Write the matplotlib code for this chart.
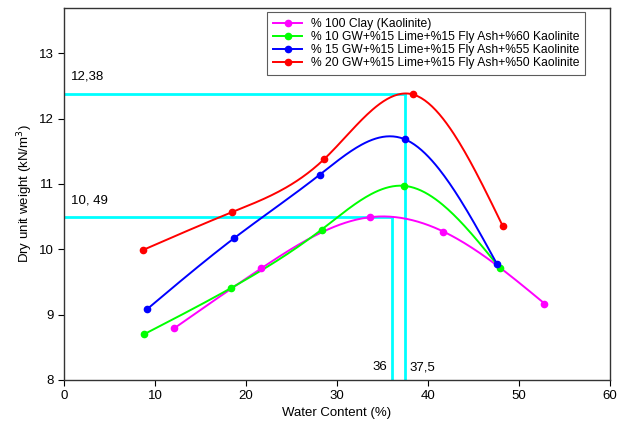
import numpy as np
import matplotlib
matplotlib.use("Agg")
import matplotlib.pyplot as plt

plt.rcParams['font.family'] = ['Liberation Sans', 'DejaVu Sans']

labels = ["% 100 Clay (Kaolinite)",
          "% 10 GW+%15 Lime+%15 Fly Ash+%60 Kaolinite",
          "% 15 GW+%15 Lime+%15 Fly Ash+%55 Kaolinite",
          "% 20 GW+%15 Lime+%15 Fly Ash+%50 Kaolinite"]
colors = ["#FF00FF", "#00FF00", "#0000FF", "#FF0000"]

clay_x = [12.1, 21.7, 33.6, 41.7, 52.8]
clay_y = [8.79, 9.71, 10.49, 10.27, 9.17]
gw10_x = [8.8, 18.4, 28.3, 37.4, 47.9]
gw10_y = [8.70, 9.41, 10.30, 10.97, 9.71]
gw15_x = [9.1, 18.7, 28.1, 37.5, 47.6]
gw15_y = [9.08, 10.17, 11.14, 11.68, 9.77]
gw20_x = [8.7, 18.5, 28.6, 38.3, 48.2]
gw20_y = [9.99, 10.57, 11.38, 12.37, 10.36]

series = [(clay_x, clay_y), (gw10_x, gw10_y), (gw15_x, gw15_y), (gw20_x, gw20_y)]

opt_w = [36, 37.5]
opt_d = [10.49, 12.38]
opt_w_txt = ["36", "37,5"]
opt_d_txt = ["10, 49", "12,38"]


def natural_spline(x, y, n=200):
    x = np.asarray(x, float); y = np.asarray(y, float)
    m = len(x)
    h = np.diff(x)
    A = np.zeros((m, m)); b = np.zeros(m)
    A[0, 0] = 1; A[-1, -1] = 1
    for i in range(1, m - 1):
        A[i, i - 1] = h[i - 1]
        A[i, i] = 2 * (h[i - 1] + h[i])
        A[i, i + 1] = h[i]
        b[i] = 6 * ((y[i + 1] - y[i]) / h[i] - (y[i] - y[i - 1]) / h[i - 1])
    M = np.linalg.solve(A, b)
    xs = np.linspace(x[0], x[-1], n)
    ys = np.empty_like(xs)
    for k, xv in enumerate(xs):
        i = min(np.searchsorted(x, xv) - 1, m - 2)
        i = max(i, 0)
        t1 = x[i + 1] - xv; t0 = xv - x[i]
        ys[k] = (M[i] * t1 ** 3 / (6 * h[i]) + M[i + 1] * t0 ** 3 / (6 * h[i])
                 + (y[i] / h[i] - M[i] * h[i] / 6) * t1
                 + (y[i + 1] / h[i] - M[i + 1] * h[i] / 6) * t0)
    return xs, ys


fig = plt.figure(figsize=(6.18, 4.24), dpi=100)
ax = fig.add_axes([0.1036, 0.1038, 0.8834, 0.8772])

# cyan guide lines
for w, d in zip(opt_w, opt_d):
    ax.plot([0, w], [d, d], color="#00FFFF", lw=2, zorder=1)
    ax.plot([w, w], [8, d], color="#00FFFF", lw=2, zorder=1)

for (xs, ys), c, lab in zip(series, colors, labels):
    sx, sy = natural_spline(xs, ys)
    ax.plot(sx, sy, color=c, lw=1.4, zorder=3)
    ax.plot(xs, ys, 'o', color=c, ms=4.5, zorder=4)
    ax.plot([], [], '-o', color=c, lw=1.4, ms=4.5, label=lab)

ax.text(0.8, opt_d[1] + 0.17, opt_d_txt[1], fontsize=9.5, va='bottom', ha='left')
ax.text(0.8, opt_d[0] + 0.17, opt_d_txt[0], fontsize=9.5, va='bottom', ha='left')
ax.text(opt_w[0] - 0.5, 8.1, opt_w_txt[0], fontsize=9.5, va='bottom', ha='right')
ax.text(opt_w[1] + 0.5, 8.1, opt_w_txt[1], fontsize=9.5, va='bottom', ha='left')

ax.set_xlim(0, 60)
ax.set_ylim(8, 13.69)
ax.set_xticks([0, 10, 20, 30, 40, 50, 60])
ax.set_yticks([8, 9, 10, 11, 12, 13])
ax.tick_params(direction='out', length=4, labelsize=9.5, top=False, right=False)
ax.set_xlabel("Water Content (%)", fontsize=9.5, labelpad=3)
ax.set_ylabel("Dry unit weight (kN/m$^3$)", fontsize=9.5, labelpad=3)
for s in ax.spines.values():
    s.set_linewidth(1.0)
    s.set_color("#333333")

leg = ax.legend(loc='upper left', bbox_to_anchor=(0.372, 0.99), fontsize=8.7,
                frameon=True, fancybox=False, edgecolor='#333333',
                handlelength=2.4, handletextpad=0.7, labelspacing=0.1,
                borderpad=0.5, borderaxespad=0)
leg.get_frame().set_linewidth(0.8)

fig.savefig("out.png", dpi=100)
